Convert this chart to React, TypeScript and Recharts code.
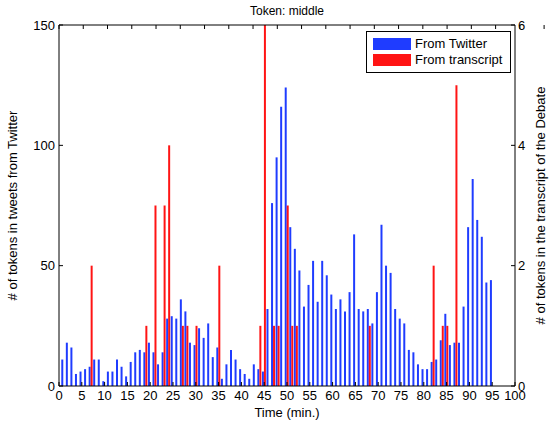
import { ComposedChart, Bar, XAxis, YAxis, Legend } from "recharts";

// minute bins (1..95)
const minutes = [
  1, 2, 3, 4, 5, 6, 7, 8, 9, 10, 11, 12, 13, 14, 15, 16, 17, 18, 19, 20,
  21, 22, 23, 24, 25, 26, 27, 28, 29, 30, 31, 32, 33, 34, 35, 36, 37, 38, 39, 40,
  41, 42, 43, 44, 45, 46, 47, 48, 49, 50, 51, 52, 53, 54, 55, 56, 57, 58, 59, 60,
  61, 62, 63, 64, 65, 66, 67, 68, 69, 70, 71, 72, 73, 74, 75, 76, 77, 78, 79, 80,
  81, 82, 83, 84, 85, 86, 87, 88, 89, 90, 91, 92, 93, 94, 95,
];

const twitterCounts = [
  11, 18, 16, 5, 6, 7, 8, 11, 11, 2, 6, 6, 11, 8, 4, 10, 14, 15, 14, 18,
  14, 9, 14, 28, 29, 28, 36, 31, 18, 17, 24, 20, 26, 12, 16, 3, 9, 15, 11, 7,
  5, 3, 9, 7, 6, 32, 76, 95, 116, 124, 66, 57, 48, 33, 42, 52, 35, 52, 46, 38,
  32, 36, 31, 39, 63, 32, 31, 32, 26, 39, 67, 50, 47, 32, 28, 26, 15, 14, 9, 7,
  7, 10, 11, 19, 30, 17, 18, 18, 33, 66, 86, 69, 62, 43, 44,
];

// transcript counts only where non-zero
const transcriptMinutes = [7, 19, 21, 23, 24, 27, 28, 30, 35, 44, 45, 47, 48, 50, 51, 52, 68, 82, 84, 85, 87];
const transcriptCounts = [2, 1, 3, 3, 4, 1, 1, 1, 2, 1, 6, 1, 1, 3, 1, 1, 1, 2, 1, 1, 5];

const xTicks = [0, 5, 10, 15, 20, 25, 30, 35, 40, 45, 50, 55, 60, 65, 70, 75, 80, 85, 90, 95, 100];
const leftTicks = [0, 50, 100, 150];
const rightTicks = [0, 2, 4, 6];

const seriesNames = ["From Twitter", "From transcript"];
const seriesColors = ["#1f3cff", "#ff1414"];

const chartData = minutes.map((m, k) => {
  const j = transcriptMinutes.indexOf(m);
  return {
    minute: m,
    twitter: twitterCounts[k],
    transcript: j >= 0 ? transcriptCounts[j] : 0,
  };
});

const tickStyle = { fontSize: 13, fill: "#000" };

function LegendBox() {
  return (
    <div
      style={{
        border: "1px solid #000",
        background: "#fff",
        padding: "4px 6px",
        fontSize: 13,
        color: "#000",
        lineHeight: "16px",
      }}
    >
      {seriesNames.map((name, k) => (
        <div key={name} style={{ display: "flex", alignItems: "center", height: 16 }}>
          <span
            style={{
              display: "inline-block",
              width: 38,
              height: 12,
              background: seriesColors[k],
              marginRight: 4,
            }}
          />
          {name}
        </div>
      ))}
    </div>
  );
}

export default function App() {
  return (
    <div
      style={{
        position: "absolute",
        left: 0,
        top: 0,
        fontFamily: "'Liberation Sans', Arial, sans-serif",
      }}
    >
      <ComposedChart
        width={552}
        height={425}
        data={chartData}
        margin={{ top: 0, right: 0, bottom: 0, left: 0 }}
        barGap={1}
      >
        <XAxis
          dataKey="minute"
          type="number"
          domain={[0, 100]}
          allowDataOverflow
          ticks={xTicks}
          interval={0}
          height={39}
          stroke="#000"
          tickSize={-4}
          tickMargin={9}
          tick={tickStyle}
          label={{
            value: "Time (min.)",
            position: "insideBottom",
            offset: 8,
            fontSize: 13,
            fill: "#000",
          }}
        />
        <XAxis
          xAxisId="top"
          orientation="top"
          type="number"
          domain={[0, 100]}
          allowDataOverflow
          ticks={xTicks}
          interval={0}
          height={25}
          stroke="#000"
          tickSize={-4}
          tickFormatter={() => ""}
          label={{
            value: "Token: middle",
            position: "center",
            dy: -2,
            fontSize: 12,
            fill: "#000",
          }}
        />
        <YAxis
          yAxisId="left"
          domain={[0, 150]}
          ticks={leftTicks}
          interval={0}
          width={59}
          stroke="#000"
          tickSize={-4}
          tickMargin={8}
          tick={tickStyle}
          label={{
            value: "# of tokens in tweets from Twitter",
            angle: -90,
            position: "insideLeft",
            offset: 12,
            fontSize: 13,
            fill: "#000",
            style: { textAnchor: "middle" },
          }}
        />
        <YAxis
          yAxisId="right"
          orientation="right"
          domain={[0, 6]}
          ticks={rightTicks}
          interval={0}
          width={37}
          stroke="#000"
          tickSize={-4}
          tickMargin={7}
          tick={tickStyle}
          label={{
            value: "# of tokens in the transcript of the Debate",
            angle: -90,
            position: "insideRight",
            offset: 12,
            fontSize: 13,
            fill: "#000",
            style: { textAnchor: "middle" },
          }}
        />
        <Legend
          layout="horizontal"
          verticalAlign="middle"
          content={() => <LegendBox />}
          wrapperStyle={{ position: "absolute", top: 31, left: 366, width: 145 }}
        />
        <Bar
          yAxisId="left"
          dataKey="twitter"
          name={seriesNames[0]}
          fill={seriesColors[0]}
          barSize={2}
          isAnimationActive={false}
        />
        <Bar
          yAxisId="right"
          dataKey="transcript"
          name={seriesNames[1]}
          fill={seriesColors[1]}
          barSize={2}
          isAnimationActive={false}
        />
      </ComposedChart>
    </div>
  );
}
